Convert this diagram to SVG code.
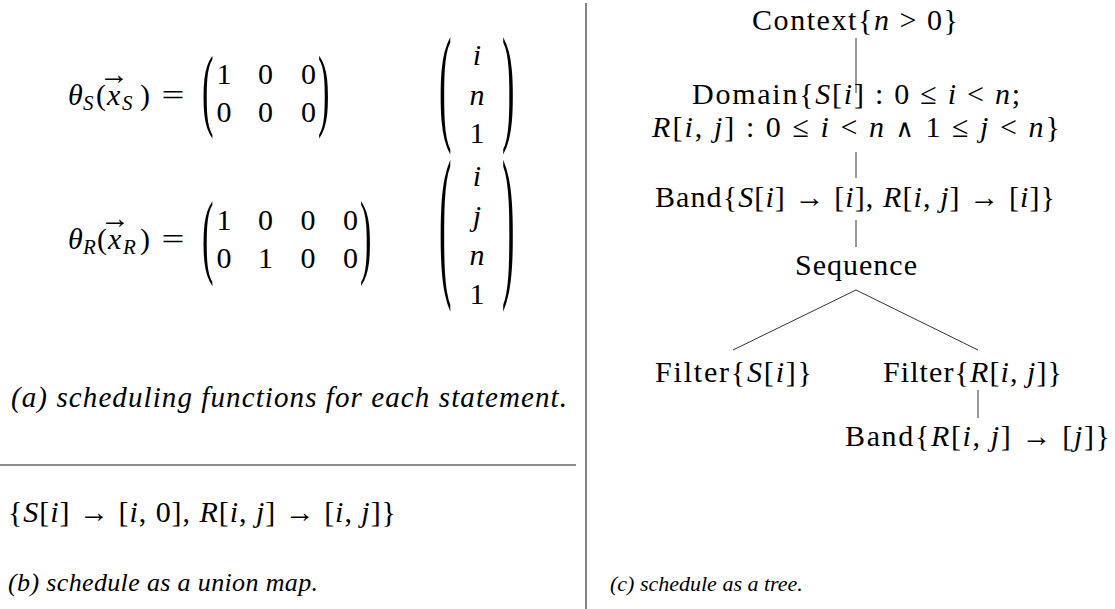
<svg xmlns="http://www.w3.org/2000/svg" width="1115" height="609" viewBox="0 0 1115 609">
<style>
.t{font-family:"Liberation Serif","Times New Roman","DejaVu Serif",serif;font-size:30px;fill:#000}
.i{font-style:italic}
.s{font-size:21px}
.c{text-anchor:middle}
.w{font-size:25px}
.cap{font-family:"Liberation Serif","Times New Roman","DejaVu Serif",serif;font-style:italic;fill:#000}
.rule{stroke:#666;stroke-width:1.6}
.edge{stroke:#333;stroke-width:1;fill:none}
</style>
<rect width="1115" height="609" fill="#fff"/>
<g id="panel-a">
  <g id="theta-s">
    <text class="t" y="105"><tspan class="i" x="68">θ</tspan><tspan class="i s" x="83" y="110">S</tspan><tspan x="96" y="105">(</tspan><tspan class="i" x="107">x</tspan><tspan class="i s" x="122" y="110">S</tspan><tspan x="140" y="105">)</tspan></text>
    <text class="t c" x="114" y="84" font-size="17">→</text>
    <text class="t c" transform="translate(173,105) scale(1.35,1)">=</text>
    <text class="t" transform="translate(202,118.9) scale(1.15,3.05)">(</text>
    <text class="t c" x="224" y="84">1</text><text class="t c" x="265.5" y="84">0</text><text class="t c" x="308.5" y="84">0</text>
    <text class="t c" x="224" y="122">0</text><text class="t c" x="265.5" y="122">0</text><text class="t c" x="308.5" y="122">0</text>
    <text class="t" transform="translate(318,118.9) scale(1.15,3.05)">)</text>
    <text class="t" transform="translate(439,127.2) scale(1.25,4.3)">(</text>
    <text class="t c i" x="477" y="65">i</text>
    <text class="t c i" x="477" y="105">n</text>
    <text class="t c" x="477" y="143">1</text>
    <text class="t" transform="translate(502,127.2) scale(1.25,4.3)">)</text>
  </g>
  <g id="theta-r">
    <text class="t" y="249"><tspan class="i" x="68">θ</tspan><tspan class="i s" x="83" y="254">R</tspan><tspan x="97" y="249">(</tspan><tspan class="i" x="108">x</tspan><tspan class="i s" x="123" y="254">R</tspan><tspan x="140" y="249">)</tspan></text>
    <text class="t c" x="115" y="228" font-size="17">→</text>
    <text class="t c" transform="translate(173,249) scale(1.35,1)">=</text>
    <text class="t" transform="translate(202,265.7) scale(1.15,3.09)">(</text>
    <text class="t c" x="224" y="230">1</text><text class="t c" x="265.5" y="230">0</text><text class="t c" x="308" y="230">0</text><text class="t c" x="350.5" y="230">0</text>
    <text class="t c" x="224" y="268">0</text><text class="t c" x="265.5" y="268">1</text><text class="t c" x="308" y="268">0</text><text class="t c" x="350.5" y="268">0</text>
    <text class="t" transform="translate(360,265.7) scale(1.15,3.09)">)</text>
    <text class="t" transform="translate(439,275.6) scale(1.25,5.55)">(</text>
    <text class="t c i" x="477" y="186">i</text>
    <text class="t c i" x="477" y="226">j</text>
    <text class="t c i" x="477" y="265">n</text>
    <text class="t c" x="477" y="304">1</text>
    <text class="t" transform="translate(502,275.6) scale(1.25,5.55)">)</text>
  </g>
  <text id="caption-a" class="cap" x="11" y="407" font-size="29" textLength="556">(a) scheduling functions for each statement.</text>
</g>
<line class="rule" x1="0" y1="465" x2="576" y2="465"/>
<g id="panel-b">
  <text class="t" x="8" y="522" textLength="388">{<tspan class="i">S</tspan>[<tspan class="i">i</tspan>] → [<tspan class="i">i</tspan>, 0], <tspan class="i">R</tspan>[<tspan class="i">i</tspan>, <tspan class="i">j</tspan>] → [<tspan class="i">i</tspan>, <tspan class="i">j</tspan>]}</text>
  <text id="caption-b" class="cap" x="8" y="591" font-size="26" textLength="310">(b) schedule as a union map.</text>
</g>
<line class="rule" x1="586" y1="3" x2="586" y2="609"/>
<g id="connectors">
  <line class="edge" x1="856" y1="38" x2="856" y2="93"/>
  <line class="edge" x1="856" y1="152" x2="856" y2="178"/>
  <line class="edge" x1="856" y1="220" x2="856" y2="247"/>
  <polyline class="edge" points="733,350 856,290 978,350"/>
  <line class="edge" x1="978" y1="390" x2="978" y2="418"/>
</g>
<g id="node-context"><text class="t" x="752" y="30" textLength="206">Context{<tspan class="i">n</tspan> &gt; 0}</text></g>
<g id="node-domain">
  <text class="t" x="692" y="104" textLength="328">Domain{<tspan class="i">S</tspan>[<tspan class="i">i</tspan>] : 0 ≤ <tspan class="i">i</tspan> &lt; <tspan class="i">n</tspan>;</text>
  <text class="t" x="652" y="137" textLength="408"><tspan class="i">R</tspan>[<tspan class="i">i</tspan>, <tspan class="i">j</tspan>] : 0 ≤ <tspan class="i">i</tspan> &lt; <tspan class="i">n</tspan> <tspan class="w">∧</tspan> 1 ≤ <tspan class="i">j</tspan> &lt; <tspan class="i">n</tspan>}</text>
</g>
<g id="node-band"><text class="t" x="655" y="207" textLength="400">Band{<tspan class="i">S</tspan>[<tspan class="i">i</tspan>] → [<tspan class="i">i</tspan>], <tspan class="i">R</tspan>[<tspan class="i">i</tspan>, <tspan class="i">j</tspan>] → [<tspan class="i">i</tspan>]}</text></g>
<g id="node-sequence"><text class="t" x="795" y="275" textLength="122">Sequence</text></g>
<g id="node-filter-s"><text class="t" x="655" y="382" textLength="157">Filter{<tspan class="i">S</tspan>[<tspan class="i">i</tspan>]}</text></g>
<g id="node-filter-r"><text class="t" x="883" y="382" textLength="179">Filter{<tspan class="i">R</tspan>[<tspan class="i">i</tspan>, <tspan class="i">j</tspan>]}</text></g>
<g id="node-band-r"><text class="t" x="845" y="446" textLength="265">Band{<tspan class="i">R</tspan>[<tspan class="i">i</tspan>, <tspan class="i">j</tspan>] → [<tspan class="i">j</tspan>]}</text></g>
<text id="caption-c" class="cap" x="610" y="591" font-size="22">(c) schedule as a tree.</text>
</svg>
